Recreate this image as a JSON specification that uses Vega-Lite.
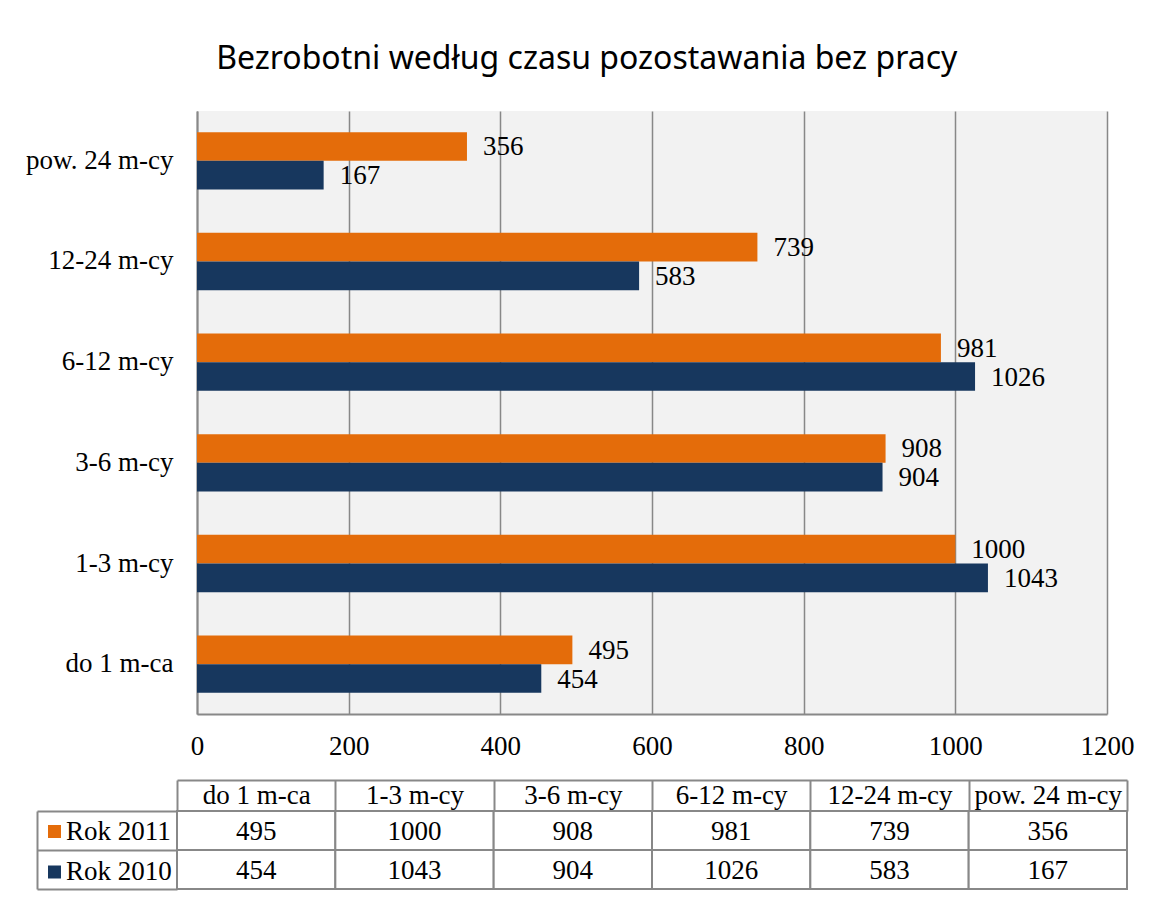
{
  "$schema": "https://vega.github.io/schema/vega-lite/v6.json",
  "autosize": {"type": "pad"},
  "padding": {"left": 25, "top": 43, "right": 5, "bottom": 5},
  "background": "white",
  "title": {
    "text": "Bezrobotni według czasu pozostawania bez pracy",
    "font": "Noto Sans",
    "fontSize": 32,
    "fontWeight": "normal",
    "color": "black",
    "anchor": "middle",
    "dx": 7,
    "offset": 10,
    "baseline": "alphabetic"
  },
  "data": {
    "values": [
      {"kat": "do 1 m-ca", "rok": "Rok 2011", "wartosc": 495},
      {"kat": "do 1 m-ca", "rok": "Rok 2010", "wartosc": 454},
      {"kat": "1-3 m-cy", "rok": "Rok 2011", "wartosc": 1000},
      {"kat": "1-3 m-cy", "rok": "Rok 2010", "wartosc": 1043},
      {"kat": "3-6 m-cy", "rok": "Rok 2011", "wartosc": 908},
      {"kat": "3-6 m-cy", "rok": "Rok 2010", "wartosc": 904},
      {"kat": "6-12 m-cy", "rok": "Rok 2011", "wartosc": 981},
      {"kat": "6-12 m-cy", "rok": "Rok 2010", "wartosc": 1026},
      {"kat": "12-24 m-cy", "rok": "Rok 2011", "wartosc": 739},
      {"kat": "12-24 m-cy", "rok": "Rok 2010", "wartosc": 583},
      {"kat": "pow. 24 m-cy", "rok": "Rok 2011", "wartosc": 356},
      {"kat": "pow. 24 m-cy", "rok": "Rok 2010", "wartosc": 167}
    ]
  },
  "vconcat": [
    {
      "width": 910,
      "height": 603,
      "view": {"fill": "#F2F2F2", "stroke": null},
      "encoding": {
        "y": {
          "field": "kat",
          "type": "nominal",
          "sort": ["pow. 24 m-cy", "12-24 m-cy", "6-12 m-cy", "3-6 m-cy", "1-3 m-cy", "do 1 m-ca"],
          "scale": {"paddingInner": 0.43, "paddingOuter": 0.21},
          "axis": {
            "title": null,
            "ticks": false,
            "domain": true,
            "domainColor": "#888888",
            "domainWidth": 2,
            "labelFont": "Liberation Serif",
            "labelFontSize": 27,
            "labelColor": "black",
            "labelPadding": 24
          }
        },
        "yOffset": {"field": "rok", "type": "nominal", "sort": ["Rok 2011", "Rok 2010"]},
        "x": {
          "field": "wartosc",
          "type": "quantitative",
          "scale": {"domain": [0, 1200], "nice": false},
          "axis": {
            "title": null,
            "values": [0, 200, 400, 600, 800, 1000, 1200],
            "format": "d",
            "grid": true,
            "gridColor": "#888888",
            "gridWidth": 1.5,
            "ticks": false,
            "domain": true,
            "domainColor": "#888888",
            "domainWidth": 2,
            "labelFlush": false,
            "labelFont": "Liberation Serif",
            "labelFontSize": 27,
            "labelColor": "black",
            "labelPadding": 19
          }
        }
      },
      "layer": [
        {
          "mark": {"type": "bar"},
          "encoding": {
            "color": {
              "field": "rok",
              "type": "nominal",
              "scale": {"domain": ["Rok 2011", "Rok 2010"], "range": ["#E46C0A", "#17375E"]},
              "legend": {
                "title": null,
                "orient": "none",
                "legendX": -136,
                "legendY": 707,
                "direction": "vertical",
                "symbolType": "square",
                "symbolSize": 169,
                "symbolStrokeWidth": 0,
                "symbolOpacity": 1,
                "labelFont": "Liberation Serif",
                "labelFontSize": 27,
                "labelColor": "black",
                "labelOffset": -2,
                "rowPadding": 12.5
              }
            }
          }
        },
        {
          "mark": {"type": "text", "align": "left", "baseline": "middle", "dx": 16, "dy": 1, "font": "Liberation Serif", "fontSize": 27, "color": "black"},
          "encoding": {"text": {"field": "wartosc", "type": "quantitative", "format": "d"}}
        }
      ]
    },
    {
      "width": 950,
      "height": 78,
      "view": {"stroke": null},
      "encoding": {
        "x": {
          "field": "kat",
          "type": "nominal",
          "sort": ["do 1 m-ca", "1-3 m-cy", "3-6 m-cy", "6-12 m-cy", "12-24 m-cy", "pow. 24 m-cy"],
          "scale": {"paddingInner": 0, "paddingOuter": 0},
          "axis": {
            "orient": "top",
            "title": null,
            "offset": 31,
            "tickSize": -31,
            "tickBand": "extent",
            "tickColor": "#888888",
            "tickWidth": 2,
            "domainColor": "#888888",
            "domainWidth": 2,
            "labelAngle": 0,
            "labelFont": "Liberation Serif",
            "labelFontSize": 27,
            "labelColor": "black",
            "labelBaseline": "middle",
            "labelPadding": 15.5
          }
        },
        "y": {
          "field": "rok",
          "type": "nominal",
          "sort": ["Rok 2011", "Rok 2010"],
          "scale": {"paddingInner": 0, "paddingOuter": 0},
          "axis": {
            "orient": "left",
            "title": null,
            "offset": 140,
            "tickSize": -140,
            "tickBand": "extent",
            "tickColor": "#888888",
            "tickWidth": 2,
            "domainColor": "#888888",
            "domainWidth": 2,
            "labels": false
          }
        }
      },
      "layer": [
        {"mark": {"type": "rect", "fill": "white", "stroke": "#888888", "strokeWidth": 2}},
        {
          "mark": {"type": "text", "baseline": "middle", "dy": 1, "font": "Liberation Serif", "fontSize": 27, "color": "black"},
          "encoding": {"text": {"field": "wartosc", "type": "quantitative", "format": "d"}}
        }
      ]
    }
  ],
  "spacing": 97,
  "center": true,
  "bounds": "flush",
  "config": {"font": "Liberation Serif", "legend": {"padding": 0}}
}
